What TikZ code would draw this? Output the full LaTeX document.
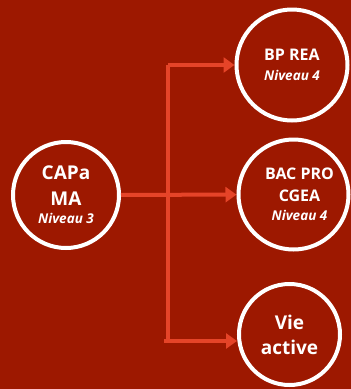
\documentclass[tikz,border=0pt]{standalone}
\usepackage{fontspec}
\setmainfont{Open Sans}
\usetikzlibrary{arrows.meta}
\definecolor{bgred}{RGB}{157,24,0}
\definecolor{flowred}{RGB}{229,68,40}
\begin{document}
\begin{tikzpicture}[x=1pt,y=-1pt,
        level/.style={circle,draw=white,line width=4pt,fill=bgred,text=white,
            align=center,inner sep=0pt},
        niv/.style={font=\fontsize{13.5}{18}\selectfont\bfseries\itshape},
        flow/.style={draw=flowred,line width=4pt,-{Triangle[length=11pt,width=15pt]}}]
                \useasboundingbox (0,0) rectangle (351,389);
                \fill[bgred] (0,0) rectangle (351,389);

                \node[level,minimum size=106pt,font=\fontsize{19}{26}\selectfont\bfseries] (capa) at (66,195)
                    {CAPa\\MA\\[-8pt]{\fontsize{13.5}{18}\selectfont\itshape Niveau 3}};
                \node[level,minimum size=111pt,font=\fontsize{16}{20}\selectfont\bfseries] (bp) at (292,65)
                    {BP REA\\{\fontsize{13.5}{18}\selectfont\itshape Niveau 4}};
                \node[level,minimum size=110pt,font=\fontsize{16}{22}\selectfont\bfseries] (bac) at (293.5,194.5)
                    {\hspace{12pt}BAC PRO\\\hspace{12pt}CGEA\\[-3pt]\hspace{12pt}{\fontsize{13.5}{18}\selectfont\itshape Niveau 4}};
                \node[level,minimum size=101pt,font=\fontsize{19}{25}\selectfont\bfseries] (vie) at (289.5,334.5)
                    {Vie\\active};

                \coordinate (jt) at (168,65);
                \coordinate (jm) at (168,195);
                \coordinate (jb) at (168,341);
                \coordinate (jb0) at (164,341);

                \draw[draw=flowred,line width=4pt] (jb) -- (jt);
                \draw[flow] (jt) -- (bp);
                \draw[flow] (capa) -- (bac);
                \draw[flow] (jb0) -- (vie.west |- jb);
            \end{tikzpicture}
\end{document}
